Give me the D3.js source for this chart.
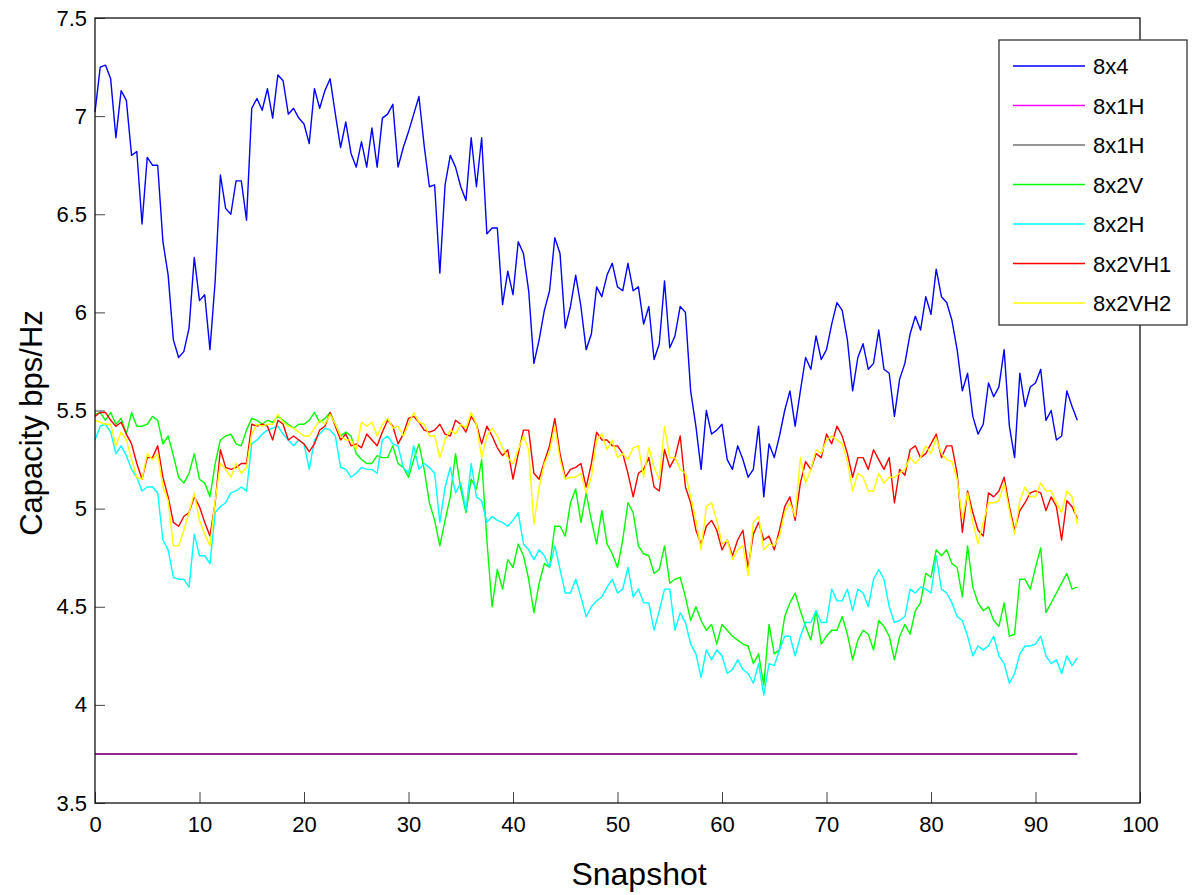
<!DOCTYPE html>
<html>
<head>
<meta charset="utf-8">
<script src="https://cdn.jsdelivr.net/npm/d3@7"></script>
<style>
  html, body { margin: 0; padding: 0; background: #fff; }
  svg text { font-family: "Liberation Sans", Arial, sans-serif; fill: #000; }
</style>
</head>
<body>
<svg id="chart" width="1192" height="895"></svg>
<script>
// ---- data (snapshot grid: 0 .. 94 in steps of 0.5) ----
const seriesNames = ["8x4", "8x1H", "8x1H", "8x2V", "8x2H", "8x2VH1", "8x2VH2"];
const xTicks = [0, 10, 20, 30, 40, 50, 60, 70, 80, 90, 100];
const yTicks = [3.5, 4, 4.5, 5, 5.5, 6, 6.5, 7, 7.5];

const cap8x4 = [
 7.02,7.25,7.26,7.19,6.89,7.13,7.08,6.80,6.82,6.45, 6.79,6.75,6.75,6.36,6.19,5.86,5.77,5.80,5.92,6.28,
 6.06,6.09,5.81,6.16,6.70,6.53,6.50,6.67,6.67,6.47, 7.04,7.09,7.03,7.14,6.99,7.21,7.18,7.01,7.04,6.99,
 6.96,6.86,7.14,7.04,7.13,7.19,7.01,6.84,6.97,6.81, 6.74,6.87,6.74,6.94,6.74,6.99,7.01,7.06,6.74,6.84,
 6.92,7.01,7.10,6.85,6.64,6.65,6.20,6.65,6.80,6.74, 6.64,6.57,6.89,6.64,6.89,6.40,6.43,6.43,6.04,6.21,
 6.09,6.36,6.30,6.11,5.74,5.86,6.01,6.11,6.38,6.30, 5.92,6.03,6.19,6.03,5.81,5.89,6.13,6.08,6.19,6.25,
 6.13,6.11,6.25,6.11,6.13,5.94,6.03,5.76,5.84,6.16, 5.82,5.88,6.03,6.00,5.60,5.42,5.20,5.50,5.38,5.40,
 5.43,5.25,5.20,5.32,5.25,5.16,5.20,5.42,5.06,5.33, 5.26,5.37,5.50,5.60,5.42,5.60,5.77,5.71,5.88,5.76,
 5.81,5.94,6.05,6.01,5.86,5.60,5.77,5.84,5.71,5.74, 5.91,5.71,5.69,5.47,5.66,5.74,5.89,5.98,5.91,6.08,
 5.99,6.22,6.08,6.05,5.96,5.81,5.60,5.69,5.47,5.38, 5.43,5.64,5.57,5.62,5.81,5.42,5.26,5.69,5.52,5.62,
 5.64,5.71,5.45,5.50,5.35,5.37,5.60,5.52,5.45
];
const cap8x1H_a = [3.75, 3.75];   // constant over the whole run (first / last snapshot)
const cap8x1H_b = [3.75, 3.75];
const cap8x2V = [
 5.48,5.49,5.45,5.49,5.43,5.46,5.38,5.49,5.42,5.42, 5.43,5.47,5.45,5.33,5.37,5.27,5.16,5.13,5.18,5.28,
 5.15,5.13,5.06,5.23,5.35,5.37,5.38,5.33,5.32,5.40, 5.46,5.45,5.43,5.45,5.44,5.47,5.45,5.43,5.41,5.43,
 5.43,5.45,5.49,5.44,5.46,5.49,5.43,5.37,5.39,5.37, 5.28,5.25,5.23,5.23,5.27,5.26,5.26,5.32,5.23,5.21,
 5.16,5.25,5.33,5.20,5.03,4.94,4.81,4.94,5.06,5.28, 5.10,4.98,5.15,5.10,5.25,4.84,4.50,4.69,4.59,4.74,
 4.70,4.82,4.76,4.64,4.47,4.62,4.72,4.70,4.91,4.91, 4.86,5.03,5.10,4.93,5.08,4.94,4.82,4.99,4.82,4.77,
 4.70,4.84,5.03,4.98,4.81,4.77,4.76,4.67,4.69,4.81, 4.62,4.64,4.65,4.55,4.43,4.50,4.43,4.38,4.41,4.31,
 4.41,4.38,4.35,4.33,4.31,4.30,4.21,4.26,4.10,4.41, 4.26,4.28,4.45,4.52,4.57,4.48,4.40,4.33,4.48,4.31,
 4.35,4.38,4.38,4.45,4.36,4.23,4.33,4.38,4.36,4.28, 4.43,4.40,4.35,4.23,4.35,4.41,4.36,4.48,4.52,4.67,
 4.65,4.79,4.76,4.79,4.72,4.70,4.55,4.81,4.60,4.52, 4.48,4.50,4.43,4.40,4.52,4.35,4.36,4.64,4.64,4.59,
 4.70,4.80,4.47,4.52,4.57,4.62,4.67,4.59,4.60
];
const cap8x2H = [
 5.35,5.42,5.43,5.39,5.28,5.32,5.27,5.20,5.16,5.09, 5.11,5.11,5.08,4.84,4.79,4.65,4.64,4.64,4.60,4.87,
 4.76,4.76,4.72,4.98,5.01,5.03,5.08,5.09,5.11,5.09, 5.33,5.35,5.38,5.40,5.41,5.42,5.38,5.35,5.32,5.35,
 5.33,5.20,5.35,5.38,5.41,5.40,5.37,5.21,5.20,5.16, 5.18,5.21,5.20,5.20,5.18,5.35,5.37,5.33,5.32,5.21,
 5.18,5.32,5.20,5.23,5.21,5.18,4.93,5.11,5.21,5.08, 5.13,4.99,5.23,5.06,5.04,4.93,4.96,4.94,4.93,4.91,
 4.94,4.98,4.82,4.79,4.74,4.79,4.76,4.70,4.81,4.69, 4.57,4.57,4.64,4.55,4.45,4.50,4.53,4.55,4.60,4.64,
 4.57,4.59,4.70,4.55,4.59,4.52,4.52,4.38,4.48,4.59, 4.59,4.38,4.47,4.42,4.31,4.26,4.14,4.28,4.23,4.28,
 4.25,4.16,4.18,4.23,4.18,4.16,4.11,4.21,4.05,4.21, 4.20,4.28,4.35,4.35,4.25,4.35,4.42,4.42,4.48,4.42,
 4.42,4.59,4.53,4.53,4.59,4.48,4.59,4.57,4.50,4.64, 4.69,4.64,4.50,4.42,4.43,4.45,4.59,4.57,4.60,4.59,
 4.57,4.76,4.59,4.57,4.52,4.45,4.43,4.35,4.25,4.30, 4.28,4.30,4.35,4.25,4.21,4.11,4.16,4.26,4.30,4.30,
 4.31,4.35,4.25,4.21,4.23,4.16,4.25,4.20,4.24
];
const cap8x2VH1 = [
 5.47,5.49,5.49,5.45,5.42,5.44,5.38,5.33,5.23,5.15, 5.26,5.26,5.32,5.16,5.06,4.93,4.91,4.96,4.98,5.06,
 5.01,4.93,4.86,5.03,5.30,5.21,5.20,5.21,5.23,5.23, 5.43,5.42,5.43,5.42,5.35,5.45,5.43,5.35,5.37,5.35,
 5.33,5.29,5.33,5.40,5.42,5.49,5.42,5.35,5.38,5.32, 5.33,5.31,5.38,5.35,5.32,5.39,5.45,5.42,5.33,5.38,
 5.46,5.47,5.44,5.40,5.39,5.40,5.43,5.38,5.37,5.45, 5.43,5.39,5.47,5.43,5.33,5.42,5.37,5.31,5.27,5.30,
 5.15,5.28,5.40,5.40,5.18,5.15,5.24,5.32,5.46,5.28, 5.16,5.20,5.21,5.23,5.11,5.23,5.39,5.35,5.35,5.32,
 5.32,5.28,5.18,5.06,5.18,5.20,5.26,5.11,5.09,5.30, 5.21,5.26,5.37,5.11,5.03,4.89,4.82,4.91,4.94,4.89,
 4.79,4.84,4.76,4.84,4.89,4.70,4.87,4.93,4.84,4.86, 4.79,4.89,5.01,5.06,4.94,5.13,5.24,5.20,5.28,5.26,
 5.38,5.33,5.42,5.37,5.28,5.16,5.26,5.26,5.20,5.30, 5.25,5.20,5.26,5.03,5.20,5.17,5.30,5.32,5.26,5.28,
 5.33,5.38,5.26,5.32,5.32,5.18,4.88,5.09,4.98,4.89, 4.86,5.08,5.06,5.09,5.16,5.01,4.89,4.99,5.03,5.08,
 5.09,5.08,4.99,5.06,5.01,4.84,5.04,5.01,4.95
];
const cap8x2VH2 = [
 5.45,5.44,5.43,5.43,5.32,5.39,5.35,5.25,5.16,5.15, 5.28,5.25,5.28,5.11,5.04,4.81,4.81,4.89,4.98,5.08,
 4.94,4.87,4.81,5.04,5.23,5.20,5.16,5.23,5.18,5.21, 5.38,5.43,5.42,5.43,5.43,5.48,5.44,5.42,5.41,5.39,
 5.37,5.37,5.41,5.45,5.43,5.48,5.43,5.37,5.35,5.35, 5.30,5.44,5.42,5.44,5.37,5.43,5.46,5.41,5.42,5.37,
 5.43,5.49,5.44,5.43,5.37,5.37,5.26,5.35,5.40,5.38, 5.43,5.41,5.49,5.43,5.26,5.37,5.41,5.37,5.31,5.26,
 5.23,5.30,5.37,5.30,4.92,5.11,5.23,5.29,5.42,5.25, 5.15,5.16,5.16,5.18,5.08,5.16,5.35,5.38,5.30,5.35,
 5.26,5.28,5.25,5.31,5.32,5.16,5.31,5.21,5.15,5.42, 5.26,5.26,5.20,5.18,5.06,4.94,4.79,5.01,5.03,4.94,
 4.82,4.84,4.74,4.79,4.81,4.66,4.93,4.96,4.79,4.82, 4.81,4.86,4.98,5.03,4.96,5.26,5.13,5.20,5.30,5.28,
 5.35,5.37,5.35,5.33,5.24,5.09,5.18,5.16,5.09,5.09, 5.18,5.13,5.16,5.16,5.18,5.20,5.26,5.23,5.26,5.32,
 5.28,5.36,5.28,5.25,5.24,5.15,4.95,5.08,4.93,4.82, 4.93,5.03,5.03,5.04,5.13,4.99,4.87,5.04,5.11,5.06,
 5.06,5.13,5.09,5.09,5.03,4.98,5.09,5.06,4.92
];
const snapshots = d3.range(0, 94.001, 0.5);   // sampling grid of the measured runs
const flatSnapshots = [0, 94];

// ---- layout ----
const svg = d3.select("#chart");
const L = 95, R = 1140, T = 18, B = 803;
const x = d3.scaleLinear().domain([0, 100]).range([L, R]);
const y = d3.scaleLinear().domain([3.5, 7.5]).range([B, T]);

svg.append("rect").attr("width", 1192).attr("height", 895).attr("fill", "#fff");

const series = [
  { name: seriesNames[0], xs: snapshots, ys: cap8x4, color: "#0000ff", op: 1 },
  { name: seriesNames[1], xs: flatSnapshots, ys: cap8x1H_a, color: "#ff00ff", op: 1 },
  { name: seriesNames[2], xs: flatSnapshots, ys: cap8x1H_b, color: "#000000", op: 0.55 },
  { name: seriesNames[3], xs: snapshots, ys: cap8x2V, color: "#00ff00", op: 1 },
  { name: seriesNames[4], xs: snapshots, ys: cap8x2H, color: "#00ffff", op: 1 },
  { name: seriesNames[5], xs: snapshots, ys: cap8x2VH1, color: "#ff0000", op: 1 },
  { name: seriesNames[6], xs: snapshots, ys: cap8x2VH2, color: "#ffff00", op: 1 }
];

const line = d3.line().x(d => x(d[0])).y(d => y(d[1]));
const g = svg.append("g");
series.forEach(s => {
  const pts = s.ys.map((v, i) => [s.xs[i], v]);
  g.append("path").datum(pts)
    .attr("d", line)
    .attr("fill", "none")
    .attr("stroke", s.color)
    .attr("stroke-opacity", s.op)
    .attr("stroke-width", 1.4)
    .attr("stroke-linejoin", "round");
});

// ---- axes (MATLAB style, ticks inward) ----
const xAxis = d3.axisBottom(x).tickValues(xTicks).tickSize(-11).tickPadding(13).tickFormat(d3.format("d"));
const yAxis = d3.axisLeft(y).tickValues(yTicks).tickSize(-10).tickPadding(8).tickFormat(d => String(d));

const gx = svg.append("g").attr("transform", `translate(0,${B})`).call(xAxis);
const gy = svg.append("g").attr("transform", `translate(${L},0)`).call(yAxis);
[gx, gy].forEach(a => {
  a.select(".domain").remove();
  a.selectAll(".tick line").attr("stroke", "#444").attr("stroke-width", 1);
  a.selectAll(".tick text").attr("font-size", 22).attr("font-family", "Liberation Sans").attr("fill", "#000");
});

// frame
svg.append("rect").attr("x", L).attr("y", T).attr("width", R - L).attr("height", B - T)
  .attr("fill", "none").attr("stroke", "#111").attr("stroke-width", 1.3);

// axis titles
svg.append("text").attr("x", 639).attr("y", 885).attr("text-anchor", "middle")
  .attr("font-size", 32).text("Snapshot");
svg.append("text").attr("transform", "translate(42,423) rotate(-90)").attr("text-anchor", "middle")
  .attr("font-size", 31).text("Capacity bps/Hz");

// ---- legend ----
const lg = svg.append("g");
lg.append("rect").attr("x", 999).attr("y", 40).attr("width", 188).attr("height", 285)
  .attr("fill", "#fff").attr("stroke", "#333").attr("stroke-width", 1.3);
series.forEach((s, i) => {
  const yy = 66 + i * 39.5;
  lg.append("line").attr("x1", 1013).attr("x2", 1085).attr("y1", yy).attr("y2", yy)
    .attr("stroke", s.color).attr("stroke-opacity", s.op).attr("stroke-width", 1.3);
  lg.append("text").attr("x", 1093).attr("y", yy + 8).attr("font-size", 22).text(s.name);
});
</script>
</body>
</html>
